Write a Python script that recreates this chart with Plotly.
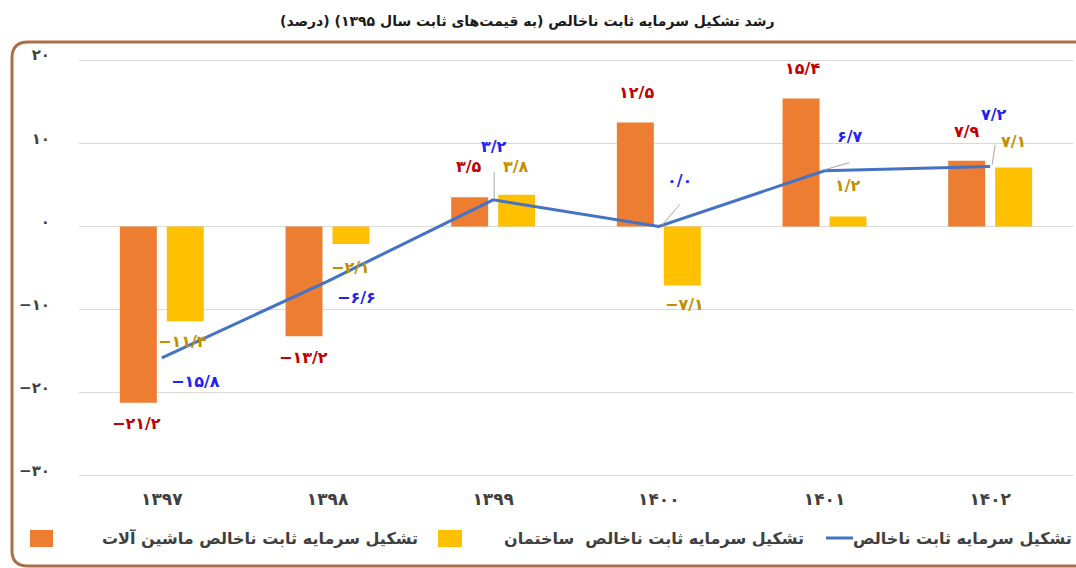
import plotly.graph_objects as go

# ---------------- data ----------------
years = ["۱۳۹۷", "۱۳۹۸", "۱۳۹۹", "۱۴۰۰", "۱۴۰۱", "۱۴۰۲"]
machinery = [-21.2, -13.2, 3.5, 12.5, 15.4, 7.9]
construction = [-11.4, -2.1, 3.8, -7.1, 1.2, 7.1]
total = [-15.8, -6.6, 3.2, 0.0, 6.7, 7.2]
ytick_vals = [20, 10, 0, -10, -20, -30]
ytick_text = ["۲۰", "۱۰", "۰", "−۱۰", "−۲۰", "−۳۰"]

name_machinery = "تشکیل سرمایه ثابت ناخالص ماشین آلات"
name_construction = "تشکیل سرمایه ثابت ناخالص\u00a0\u00a0ساختمان"
name_total = "تشکیل سرمایه ثابت ناخالص"
title_text = "\u200fرشد تشکیل سرمایه ثابت ناخالص (به قیمت‌های ثابت سال ۱۳۹۵) (درصد)\u200f"

# ---------------- label placement (pixel offsets from the data point) ----------------
mach_dx = [-25, -24, -24, -22, -22, -23]
mach_dy = [-21, -21, 31, 30, 30, 29]
cons_dx = [21, 23, 23, 26, 23, 23]
cons_dy = [-20, -24, 28, -19, 31, 26]
tot_dx = [34, 29, 1, 21, 25, 4]
tot_dy = [-24, -16, 53, 46, 34, 52]
# leader lines for total labels: (index, x0, y0, x1, y1) pixel offsets from point
leaders = [(2, 1, 2, 1, 28), (3, 3, 1, 21, 22), (4, 0, 1, 25, 8), (5, 2, 2, 5, 22)]

FONT = "DejaVu Sans"
C_ORANGE = "#ed7d31"
C_YELLOW = "#ffc000"
C_BLUE = "#4472c4"
C_RED_T = "#c00000"
C_GOLD_T = "#bf9000"
C_BLUE_T = "#2323f0"
C_AXIS_T = "#404040"

W, H = 1076, 568
PL, PR, PT, PB = 79, 3, 56, 88


def px(x):
    return (x - PL) / (W - PL - PR)


def py(y):
    return (H - PB - y) / (H - PT - PB)


def fa(v):
    digits = str.maketrans("0123456789", "۰۱۲۳۴۵۶۷۸۹")
    s = f"{abs(v):.1f}".replace(".", "/").translate(digits)
    return ("−" + s) if v < 0 else s


fig = go.Figure()
fig.add_trace(go.Bar(x=years, y=machinery, name=name_machinery,
                     marker=dict(color=C_ORANGE, line=dict(width=0)), showlegend=False))
fig.add_trace(go.Bar(x=years, y=construction, name=name_construction,
                     marker=dict(color=C_YELLOW, line=dict(width=0)), showlegend=False))
fig.add_trace(go.Scatter(x=years, y=total, name=name_total, mode="lines",
                         line=dict(color=C_BLUE, width=3), showlegend=False))

ann = []
for i, yv in enumerate(years):
    ann.append(dict(x=yv, y=machinery[i], xref="x", yref="y", text=fa(machinery[i]),
                    showarrow=False, xshift=mach_dx[i], yshift=mach_dy[i],
                    font=dict(family=FONT, size=16, color=C_RED_T, weight="bold")))
    ann.append(dict(x=yv, y=construction[i], xref="x", yref="y", text=fa(construction[i]),
                    showarrow=False, xshift=cons_dx[i], yshift=cons_dy[i],
                    font=dict(family=FONT, size=16, color=C_GOLD_T, weight="bold")))
    ann.append(dict(x=yv, y=total[i], xref="x", yref="y", text=fa(total[i]),
                    showarrow=False, xshift=tot_dx[i], yshift=tot_dy[i],
                    font=dict(family=FONT, size=16, color=C_BLUE_T, weight="bold")))

# title
ann.append(dict(x=px(527), y=py(22), xref="paper", yref="paper", text=title_text,
                showarrow=False, xanchor="center", yanchor="middle",
                font=dict(family=FONT, size=14, color="#1a1a1a", weight="bold")))

# legend texts
for txt, xr in [(name_machinery, 420), (name_construction, 806), (name_total, 1074)]:
    ann.append(dict(x=px(xr), y=py(538), xref="paper", yref="paper", text=txt,
                    showarrow=False, xanchor="right", yanchor="middle",
                    font=dict(family=FONT, size=16, color=C_AXIS_T, weight="bold")))

shapes = []
for (i, x0, y0, x1, y1) in leaders:
    shapes.append(dict(type="line", xref="x", yref="y", xsizemode="pixel", ysizemode="pixel",
                       xanchor=years[i], yanchor=total[i], x0=x0, y0=y0, x1=x1, y1=y1,
                       line=dict(color="#a6a6a6", width=1)))
# legend markers
shapes.append(dict(type="rect", xref="paper", yref="paper", x0=px(30), x1=px(53),
                   y0=py(547), y1=py(530), fillcolor=C_ORANGE, line=dict(width=0)))
shapes.append(dict(type="rect", xref="paper", yref="paper", x0=px(438), x1=px(462),
                   y0=py(547), y1=py(530), fillcolor=C_YELLOW, line=dict(width=0)))
shapes.append(dict(type="line", xref="paper", yref="paper", x0=px(826), x1=px(853),
                   y0=py(538), y1=py(538), line=dict(color=C_BLUE, width=3)))
# rounded frame
path = (f"M {px(1100)},{py(42)} L {px(28)},{py(42)} Q {px(12)},{py(42)} {px(12)},{py(58)} "
        f"L {px(12)},{py(551)} Q {px(12)},{py(566)} {px(28)},{py(566)} L {px(1100)},{py(566)}")
shapes.append(dict(type="path", xref="paper", yref="paper", path=path,
                   line=dict(color="#a9714b", width=3)))

fig.update_layout(
    width=W, height=H,
    margin=dict(l=PL, r=PR, t=PT, b=PB, pad=0),
    paper_bgcolor="white", plot_bgcolor="white",
    barmode="group", bargap=0.433, bargroupgap=0.213,
    annotations=ann, shapes=shapes,
    showlegend=False,
    xaxis=dict(showgrid=False, zeroline=False, showline=False, ticks="",
               tickfont=dict(family=FONT, size=17, color=C_AXIS_T, weight="bold"),
               ticklabelstandoff=7),
    yaxis=dict(range=[-30.5, 20.5], tickvals=ytick_vals, ticktext=ytick_text,
               showgrid=True, gridcolor="#d9d9d9", gridwidth=1, zeroline=False,
               showline=False, ticks="", ticklabelstandoff=28, ticklabelshift=-5,
               tickfont=dict(family=FONT, size=15, color=C_AXIS_T, weight="bold")),
)

fig.write_html("out.html", config={"displayModeBar": False},
               post_script="document.body.style.margin='0';")
